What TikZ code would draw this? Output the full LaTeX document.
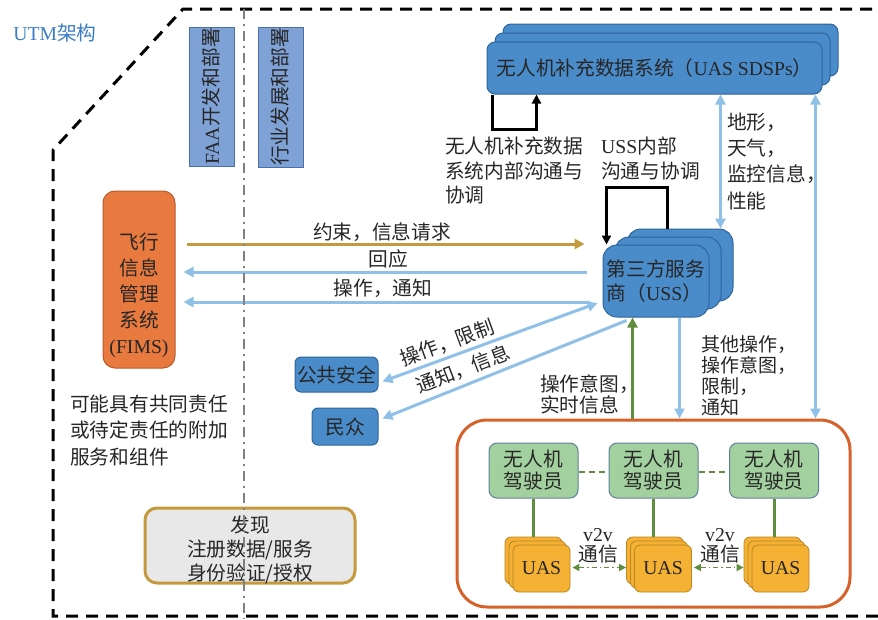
\documentclass[tikz,border=0pt]{standalone}
\usepackage{fontspec}
\setmainfont{Liberation Serif}
\newfontfamily\cjk{Noto Sans CJK SC}
\usetikzlibrary{arrows.meta,calc}
\newcommand{\lat}[1]{{\rmfamily #1}}
\definecolor{txt}{HTML}{262626}
\definecolor{blueF}{HTML}{4A8BC9}
\definecolor{blueD}{HTML}{2E659B}
\definecolor{faaF}{HTML}{7FA2D6}
\definecolor{faaD}{HTML}{4C6FA8}
\definecolor{lb}{HTML}{8FC0E8}
\definecolor{gold}{HTML}{C49A3C}
\definecolor{grn}{HTML}{5E8E3E}
\definecolor{pilotF}{HTML}{A3D09F}
\definecolor{pilotD}{HTML}{5F7F9A}
\definecolor{uasF}{HTML}{F4B133}
\definecolor{uasD}{HTML}{B88522}
\definecolor{org}{HTML}{D4622A}
\definecolor{fimsF}{HTML}{E97A3F}
\definecolor{fimsD}{HTML}{B85A2A}
\definecolor{discF}{HTML}{E8E8E8}
\definecolor{utm}{HTML}{3B7DC4}
\begin{document}
\begin{tikzpicture}[x=1pt,y=-1pt,
  font=\cjk\fontsize{19.7}{24}\selectfont, text=txt,
  bluebox/.style={draw=blueD, fill=blueF, line width=1pt, rounded corners=8pt, inner sep=2pt},
  faabox/.style={draw=faaD, fill=faaF, line width=0.8pt, inner sep=1pt},
  pilotbox/.style={draw=pilotD, fill=pilotF, line width=1pt, rounded corners=8pt, inner sep=2pt, align=center, font=\cjk\fontsize{19.7}{22}\selectfont},
  uasbox/.style={draw=uasD, fill=uasF, line width=0.8pt, rounded corners=6pt, minimum width=57pt, minimum height=47pt},
  lbl/.style={inner sep=0pt, align=left, anchor=north west},
  lbarrow/.style={draw=lb, line width=3pt, -{Triangle[length=10pt,width=10pt]}},
  lbboth/.style={draw=lb, line width=3pt, {Triangle[length=10pt,width=10pt]}-{Triangle[length=10pt,width=10pt]}},
  loopline/.style={draw=black, line width=2.5pt, -{Triangle[length=9pt,width=9pt]}},
  outer/.style={draw=black, line width=3pt, dash pattern=on 12pt off 8pt},
]
\useasboundingbox (0,0) rectangle (878,619);

% title
\node[text=utm] (utm) at (55,33) {\lat{UTM}架构};

% outer dashed boundary
\draw[outer] (878,616) -- (53,616) -- (53,150) -- (183,9) -- (878,9);

% FAA / industry boxes
\node[faabox, rotate=90, minimum width=139pt, minimum height=45pt] (faa) at (211.5,96.5) {\lat{FAA}开发和部署};
\node[faabox, rotate=90, minimum width=139pt, minimum height=45pt] (ind) at (280.5,97) {行业发展和部署};

% FIMS
\node[draw=fimsD, fill=fimsF, line width=1pt, rounded corners=12pt, minimum width=72pt, minimum height=177pt] (fims) at (139,279.5) {};
\node[align=center, inner sep=0pt, font=\cjk\fontsize{19.7}{26}\selectfont] (fimsT) at (139,295.5) {飞行\\信息\\管理\\系统\\\lat{(FIMS)}};

% SDSPs stack
\node[bluebox, minimum width=335pt, minimum height=52pt] (sdsp3) at (670.5,50) {};
\node[bluebox, minimum width=335pt, minimum height=52pt] (sdsp2) at (662.5,59) {};
\node[bluebox, minimum width=335pt, minimum height=52pt] (sdsp) at (654.5,68) {无人机补充数据系统（\lat{UAS SDSPs}）};

% USS stack
\node[bluebox, rounded corners=14pt, minimum width=106pt, minimum height=72pt] (uss3) at (680,265) {};
\node[bluebox, rounded corners=14pt, minimum width=106pt, minimum height=72pt] (uss2) at (668,273) {};
\node[bluebox, rounded corners=14pt, minimum width=106pt, minimum height=72pt, align=left] (uss) at (656,281) {第三方服务\\商（\lat{USS}）};

% public safety / public
\node[bluebox, rounded corners=6pt, minimum width=83pt, minimum height=35pt] (pub) at (336.5,374.5) {公共安全};
\node[bluebox, rounded corners=6pt, minimum width=66pt, minimum height=37pt] (pop) at (345,426.5) {民众};

% discovery
\node[draw=gold, fill=discF, line width=3pt, rounded corners=12pt, minimum width=210pt, minimum height=75pt] (disc) at (250,545.5) {};
\node[align=center, inner sep=0pt] (discT) at (250,550) {发现\\注册数据/服务\\身份验证/授权};

% container
\node[draw=org, line width=3pt, rounded corners=30pt, minimum width=393pt, minimum height=187pt] (cont) at (653.5,513.5) {};

% pilots
\node[pilotbox, minimum width=89pt, minimum height=55pt] (p1) at (533.5,470.5) {无人机\\驾驶员};
\node[pilotbox, minimum width=89pt, minimum height=55pt] (p2) at (653.5,470.5) {无人机\\驾驶员};
\node[pilotbox, minimum width=89pt, minimum height=55pt] (p3) at (774,470.5) {无人机\\驾驶员};

% UAS stacks
\node[uasbox] (uA3) at (533.5,560.5) {};
\node[uasbox] (uA2) at (537.5,564.5) {};
\node[uasbox] (uA) at (541.5,568.5) {\lat{UAS}};
\node[uasbox] (uB3) at (655,560.5) {};
\node[uasbox] (uB2) at (659,564.5) {};
\node[uasbox] (uB) at (663,568.5) {\lat{UAS}};
\node[uasbox] (uC3) at (772.5,560.5) {};
\node[uasbox] (uC2) at (776.5,564.5) {};
\node[uasbox] (uC) at (780.5,568.5) {\lat{UAS}};

% pilot links
\draw[grn, line width=1.5pt, dash pattern=on 6pt off 4pt] ($(p1.east)+(0,1.5)$) -- ($(p2.west)+(0,1.5)$);
\draw[grn, line width=1.5pt, dash pattern=on 6pt off 4pt] ($(p2.east)+(0,1.5)$) -- ($(p3.west)+(0,1.5)$);
\draw[grn, line width=3pt] (p1.south) -- (p1.south |- uA3.north);
\draw[grn, line width=3pt] (p2.south) -- (p2.south |- uB3.north);
\draw[grn, line width=3pt] (p3.south) -- (p3.south |- uC3.north);

% v2v
\draw[grn, line width=1.5pt, dash pattern=on 5pt off 3pt on 1.5pt off 3pt, {Triangle[length=7pt,width=7pt]}-{Triangle[length=7pt,width=7pt]}] ($(uA.east)+(2,-1)$) -- ($(uA.east -| uB3.west)+(0,-1)$);
\draw[grn, line width=1.5pt, dash pattern=on 5pt off 3pt on 1.5pt off 3pt, {Triangle[length=7pt,width=7pt]}-{Triangle[length=7pt,width=7pt]}] ($(uB.east)+(2,-1)$) -- ($(uB.east -| uC3.west)+(0,-1)$);
\node[align=center, font=\cjk\fontsize{19.7}{20}\selectfont, inner sep=0pt] (v2a) at (598,546) {\lat{v2v}\\通信};
\node[align=center, font=\cjk\fontsize{19.7}{20}\selectfont, inner sep=0pt] (v2b) at (720,546) {\lat{v2v}\\通信};

% loops
\draw[loopline] ([xshift=6pt]sdsp.south west) -- ++(0,35) -| ([xshift=50pt]sdsp.south west);
\draw[loopline] ([xshift=41pt]uss3.north west) -- ++(0,-41) -| ([xshift=4pt]uss.north west);

% vertical arrows
\draw[lbboth] ([xshift=94pt]uss3.north west) -- ([xshift=94pt]uss3.north west |- sdsp.south);
\draw[lbboth] ([xshift=-7pt]sdsp.south east) -- ([xshift=-7pt]sdsp.south east |- cont.north);
\draw[lbarrow] ([xshift=-30pt]uss.south east) -- ([xshift=-30pt]uss.south east |- cont.north);
\draw[grn, line width=3pt, -{Triangle[length=10pt,width=10pt]}] ([xshift=30pt]uss.south west |- cont.north) -- ([xshift=30pt]uss.south west);

% horizontal arrows
\draw[gold, line width=3pt, -{Triangle[length=10pt,width=10pt]}] ($(fims.east)+(11,-35.5)$) -- ($(uss.west)+(-18,-37)$);
\draw[lbarrow] ($(uss.west)+(-16,-9)$) -- ($(fims.east)+(8,-7.5)$);
\draw[lbarrow] ($(uss.west)+(-13,21)$) -- ($(fims.east)+(8,22.5)$);

% diagonal arrows
\draw[lbboth] ($(pub.east)+(4,7)$) -- ($(uss.west)+(-5,22)$);
\draw[lbarrow] ($(uss.south west)+(24,3)$) -- ($(pop.east)+(4,-8)$);

% labels
\node (lg) at (382,232) {约束，信息请求};
\node (lr) at (388,259) {回应};
\node (lo) at (383,288) {操作，通知};
\node[rotate=20, inner sep=0pt] (ld1) at (447,343) {操作，限制};
\node[rotate=21, inner sep=0pt] (ld2) at (463,369) {通知，信息};
\node[lbl, font=\cjk\fontsize{19.7}{24.5}\selectfont] (lsd) at (445,137) {无人机补充数据\\系统内部沟通与\\协调};
\node[lbl, font=\cjk\fontsize{19.7}{25}\selectfont] (lus) at (601,136.5) {\lat{USS}内部\\沟通与协调};
\node[lbl, font=\cjk\fontsize{19.7}{26.3}\selectfont] (lter) at (727,112.5) {地形，\\天气，\\监控信息，\\性能};
\node[lbl, font=\cjk\fontsize{19}{21}\selectfont] (loth) at (701,335.5) {其他操作，\\操作意图，\\限制，\\通知};
\node[lbl, font=\cjk\fontsize{19.7}{21}\selectfont] (lint) at (540,374.5) {操作意图，\\实时信息};
\node[lbl, font=\cjk\fontsize{19.7}{26.5}\selectfont] (ladd) at (70,394.5) {可能具有共同责任\\或待定责任的附加\\服务和组件};

% dash-dot divider
\draw[draw=black!50, line width=2pt, dash pattern=on 10pt off 5pt on 2pt off 5pt] (244,9) -- (244,619);
\end{tikzpicture}
\end{document}
